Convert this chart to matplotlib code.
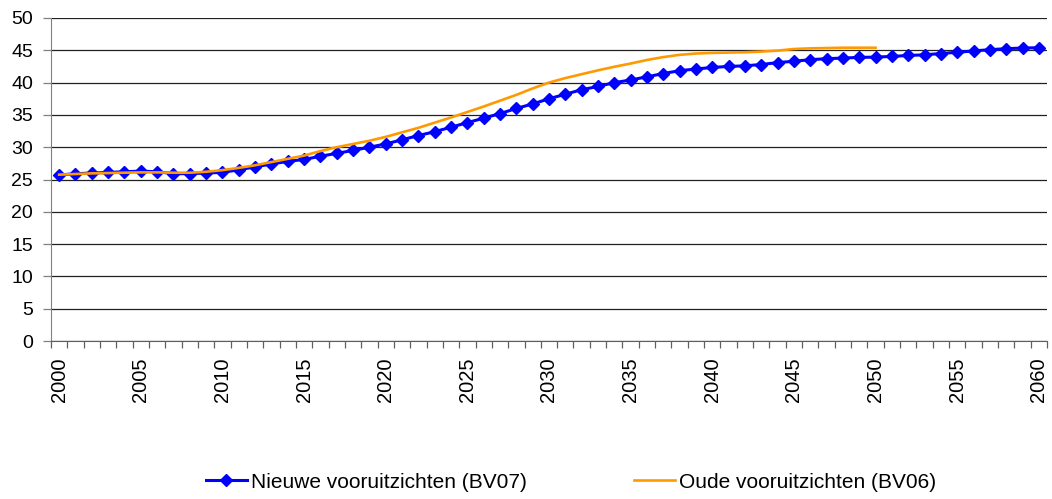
import numpy as np
import matplotlib.pyplot as plt
from matplotlib.ticker import MultipleLocator, FixedLocator

plt.rcParams['font.family'] = ['Liberation Sans', 'DejaVu Sans']

# -------------------------
# Data
# -------------------------
years_new = list(range(2000, 2061))
new_bv07 = [25.7, 25.9, 26.0, 26.1, 26.2, 26.3, 26.2, 25.9, 25.9, 26.0,
            26.1, 26.5, 26.95, 27.4, 27.8, 28.1, 28.6, 29.05, 29.5, 30.0,
            30.5, 31.15, 31.8, 32.4, 33.1, 33.8, 34.5, 35.2, 36.0, 36.7,
            37.5, 38.2, 38.9, 39.4, 40.0, 40.4, 40.9, 41.4, 41.85, 42.1,
            42.35, 42.5, 42.6, 42.8, 43.1, 43.3, 43.55, 43.7, 43.8, 43.9,
            43.95, 44.05, 44.2, 44.3, 44.5, 44.7, 44.9, 45.1, 45.25, 45.35,
            45.4]

years_old = list(range(2000, 2051))
old_bv06 = [25.75, 25.85, 25.95, 26.0, 26.05, 26.1, 26.1, 26.05, 26.05, 26.2,
            26.45, 26.8, 27.2, 27.7, 28.2, 28.7, 29.4, 30.0, 30.5, 31.0,
            31.6, 32.3, 33.0, 33.8, 34.6, 35.45, 36.3, 37.2, 38.1, 39.1,
            40.0, 40.7, 41.3, 41.9, 42.45, 42.95, 43.5, 43.95, 44.3, 44.5,
            44.6, 44.65, 44.7, 44.8, 44.95, 45.2, 45.3, 45.35, 45.4, 45.4,
            45.4]

label_new = 'Nieuwe vooruitzichten (BV07)'
label_old = 'Oude vooruitzichten (BV06)'

# -------------------------
# Plotting
# -------------------------
fig = plt.figure(figsize=(10.52, 4.99), dpi=100)
ax = fig.add_axes([51/1052, (499-341)/499, 996/1052, 323/499])

ax.plot(years_new, new_bv07, color='#0000FF', lw=2.2, marker='D',
        markersize=6.4, label=label_new, zorder=3)
ax.plot(years_old, old_bv06, color='#FF9900', lw=1.9, label=label_old, zorder=4)

ax.set_xlim(1999.5, 2060.5)
ax.set_ylim(0, 50)
ax.yaxis.set_major_locator(MultipleLocator(5))
ax.xaxis.set_major_locator(FixedLocator(list(range(2000, 2061, 5))))
ax.xaxis.set_minor_locator(FixedLocator(np.arange(1999.5, 2061, 1)))

ax.grid(axis='y', color='#202020', lw=0.9)
ax.set_axisbelow(True)
for side in ['top', 'right']:
    ax.spines[side].set_visible(False)
ax.spines['left'].set_color('#808080')
ax.spines['bottom'].set_color('#606060')

ax.tick_params(axis='y', length=6, width=0.9, color='#808080', pad=7, labelsize=14)
ax.tick_params(axis='x', which='major', length=0, pad=12, labelsize=14.5, labelrotation=90)
ax.tick_params(axis='x', which='minor', length=5, width=0.9, color='#606060')

fig.legend(loc='center', bbox_to_anchor=(571/1052, 1-482/499), ncol=2,
           frameon=False, fontsize=15, handlelength=2.0, handletextpad=0.2,
           columnspacing=5.1)

fig.savefig('out.png', dpi=100)
